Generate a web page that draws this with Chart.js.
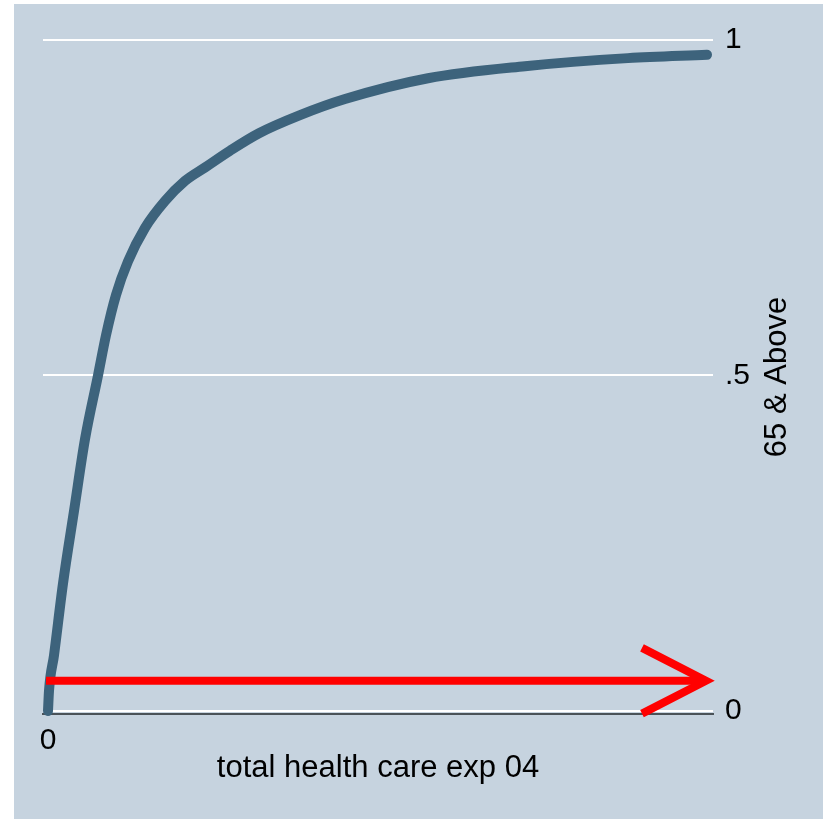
<!DOCTYPE html>
<html>
<head>
<meta charset="utf-8">
<script src="https://cdn.jsdelivr.net/npm/chart.js@4/dist/chart.umd.min.js"></script>
<style>
  html, body { margin: 0; padding: 0; background: #ffffff; }
  canvas { display: block; }
</style>
</head>
<body>
<canvas id="myChart" width="824" height="819"></canvas>
<script>
// cumulative share of people 65 & above by total health care expenditure
const expValues = [0, 100, 600, 1500, 2600, 3700, 5000, 5800, 6800, 8000, 9700, 11700, 13700, 15700, 18200, 21100, 25200, 29700, 38000, 47700, 58000, 65900];
const shareValues = [0, 0.03, 0.083, 0.19, 0.298, 0.405, 0.5, 0.56, 0.62, 0.67, 0.72, 0.76, 0.79, 0.81, 0.835, 0.861, 0.888, 0.912, 0.943, 0.961, 0.973, 0.978];

// red arrow drawn over the plot
const arrowX = [-200, 65800];
const arrowY = [0.045, 0.045];
const headX = [59400, 65800, 59400];
const headY = [0.094, 0.045, -0.004];

const yTicks = [0, 0.5, 1];
const xTicks = [0];
const xTitle = "total health care exp 04";
const yTitle = "65 & Above";

const bgColor = "#c6d3df";
const lineColor = "#3d637c";
const fontFamily = "'Liberation Sans', Arial, sans-serif";

function toPoints(xs, ys) {
  return xs.map((x, i) => ({ x: x, y: ys[i] }));
}

const background = {
  id: "background",
  beforeDraw(chart) {
    const c = chart.ctx;
    c.save();
    c.fillStyle = "#ffffff";
    c.fillRect(0, 0, chart.width, chart.height);
    c.fillStyle = bgColor;
    c.fillRect(14, 4, chart.width - 15, chart.height - 4);
    c.restore();
  },
  afterDraw(chart) {
    // right axis title, reads bottom to top
    const y = chart.scales.y;
    const c = chart.ctx;
    c.save();
    c.translate(777, (y.top + y.bottom) / 2);
    c.rotate(-Math.PI / 2);
    c.font = "31px " + fontFamily;
    c.fillStyle = "#000000";
    c.textAlign = "center";
    c.textBaseline = "middle";
    c.fillText(yTitle, 0, 0);
    c.restore();
  },
};

const ctx = document.getElementById("myChart").getContext("2d");
new Chart(ctx, {
  type: "scatter",
  data: {
    datasets: [
      {
        data: toPoints(arrowX, arrowY),
        showLine: true,
        borderColor: "#ff0000",
        borderWidth: 8,
        borderCapStyle: "butt",
        pointRadius: 0,
        clip: false,
      },
      {
        data: toPoints(headX, headY),
        showLine: true,
        borderColor: "#ff0000",
        borderWidth: 8,
        borderCapStyle: "butt",
        borderJoinStyle: "miter",
        pointRadius: 0,
        clip: false,
      },
      {
        data: toPoints(expValues, shareValues),
        showLine: true,
        borderColor: lineColor,
        borderWidth: 10,
        borderCapStyle: "round",
        borderJoinStyle: "round",
        cubicInterpolationMode: "monotone",
        pointRadius: 0,
        clip: false,
      },
    ],
  },
  options: {
    responsive: false,
    animation: false,
    devicePixelRatio: 1,
    layout: { padding: { left: 43, top: 40, right: 0, bottom: 0 } },
    plugins: { legend: { display: false }, tooltip: { enabled: false } },
    scales: {
      x: {
        type: "linear",
        min: -500,
        max: 66500,
        afterBuildTicks: (scale) => {
          scale.ticks = xTicks.map((v) => ({ value: v }));
        },
        afterFit: (scale) => {
          scale.height = 105;
        },
        grid: { display: false, drawTicks: false },
        border: { display: true, color: "#4a5258", width: 2 },
        ticks: {
          padding: 9,
          color: "#000000",
          font: { family: fontFamily, size: 30 },
          maxRotation: 0,
        },
        title: {
          display: true,
          text: xTitle,
          color: "#000000",
          font: { family: fontFamily, size: 31 },
          padding: { top: 0, bottom: 32 },
        },
      },
      y: {
        type: "linear",
        position: "right",
        min: -0.0045,
        max: 1,
        afterBuildTicks: (scale) => {
          scale.ticks = yTicks.map((v) => ({ value: v }));
        },
        afterFit: (scale) => {
          scale.width = 111;
        },
        grid: { color: "#ffffff", lineWidth: 2, drawTicks: false },
        border: { display: false },
        ticks: {
          padding: 12,
          color: "#000000",
          font: { family: fontFamily, size: 30 },
          callback: (v) => (v === 0 ? "0" : v === 1 ? "1" : String(v).replace(/^0/, "")),
        },
      },
    },
  },
  plugins: [background],
});
</script>
</body>
</html>
